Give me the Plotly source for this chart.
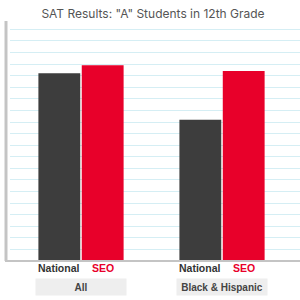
import plotly.graph_objects as go

groups = ["All", "Black & Hispanic"]
series_names = ["National", "SEO"]
national = [81, 61]
seo = [84.5, 82]
title = 'SAT Results: "A" Students in 12th Grade'

DARK = "#3d3d3d"
RED = "#e8002a"
GRID = "#d5eef4"
AXIS = "#c4c4c4"

bargap = 0.385
bargroupgap = 0.035

fig = go.Figure()
fig.add_trace(go.Bar(x=[0, 1], y=national, name=series_names[0], marker=dict(color=DARK, line=dict(width=0))))
fig.add_trace(go.Bar(x=[0, 1], y=seo, name=series_names[1], marker=dict(color=RED, line=dict(width=0))))

off = (1 - bargap) / 4
ann = []
for i, g in enumerate(groups):
    ann.append(dict(x=i - off, y=-7/240, xref="x", yref="paper", yanchor="middle", showarrow=False,
                    text="<b>National</b>", font=dict(family="Liberation Sans, Arial", size=10.5, color="#333333")))
    ann.append(dict(x=i + off, y=-7/240, xref="x", yref="paper", yanchor="middle", showarrow=False,
                    text="<b>SEO</b>", font=dict(family="Liberation Sans, Arial", size=10.5, color=RED)))
    ann.append(dict(x=i, y=-26/240, xref="x", yref="paper", yanchor="middle", showarrow=False,
                    text="<b>" + g.replace("&", "&amp;") + "</b>", bgcolor="#eeeeee", width=88, height=14,
                    borderpad=1, font=dict(family="Liberation Sans, Arial", size=10, color="#444444")))

fig.update_layout(
    width=300, height=300,
    margin=dict(l=10, r=0, t=21, b=39),
    paper_bgcolor="white", plot_bgcolor="white",
    barmode="group", bargap=bargap, bargroupgap=bargroupgap,
    showlegend=False,
    title=dict(text=title, x=0.51, xanchor="center", y=0.955, yanchor="middle",
               font=dict(family="Inter, Open Sans, sans-serif", size=12, color="#555555")),
    xaxis=dict(range=[-0.5035, 1.553], showticklabels=False, showgrid=False, zeroline=False,
               showline=False, ticks=""),
    yaxis=dict(range=[0, 103.6], dtick=5, showticklabels=False, showgrid=True, gridcolor=GRID,
               gridwidth=1, zeroline=False, showline=False, ticks=""),
    annotations=ann,
    shapes=[
        dict(type="line", xref="paper", yref="paper", x0=-4/290, x1=-4/290, y0=0, y1=1,
             line=dict(color=AXIS, width=3)),
        dict(type="line", xref="paper", yref="paper", x0=-5/290, x1=1, y0=0, y1=0,
             line=dict(color=AXIS, width=2)),
    ],
)

fig.write_html("out.html")
